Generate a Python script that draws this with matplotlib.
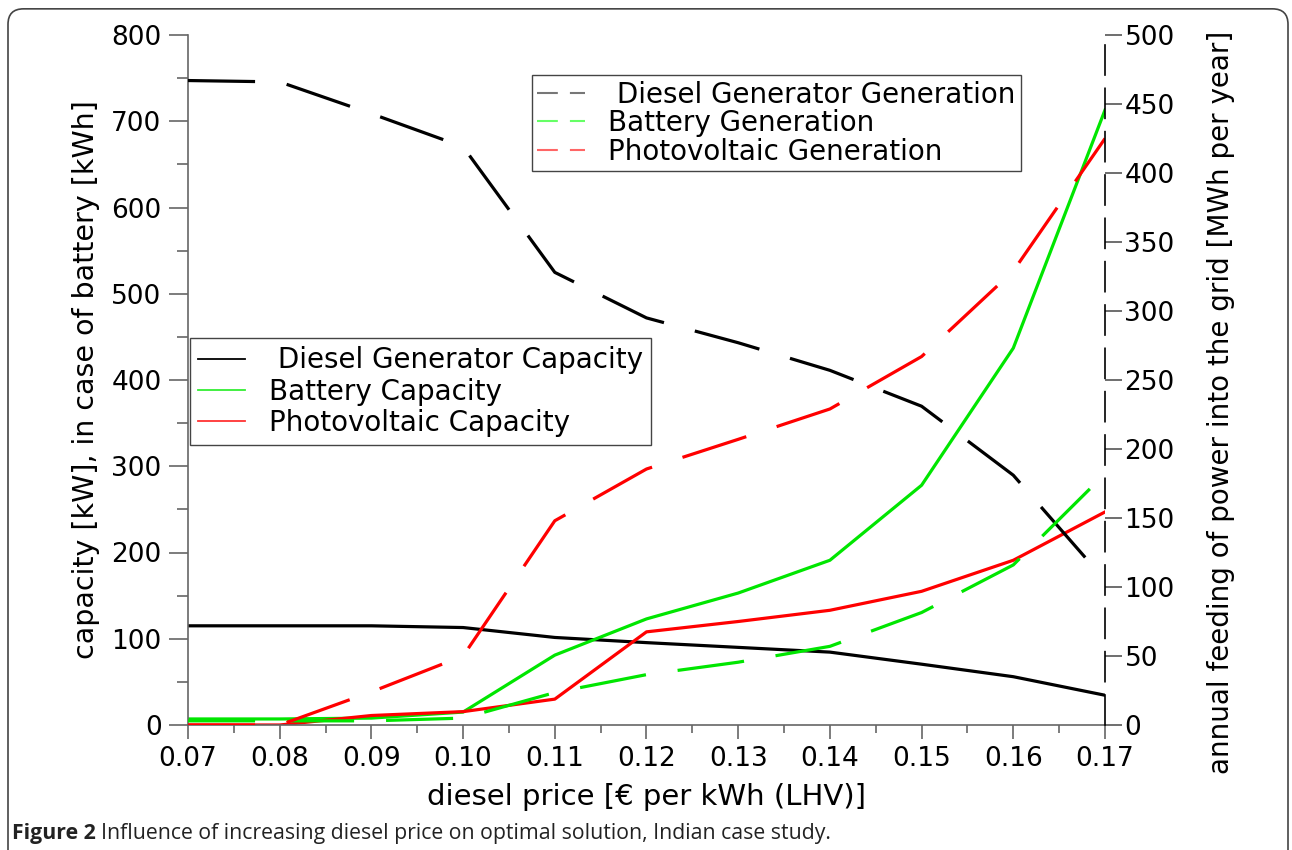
import matplotlib
matplotlib.use("Agg")
import matplotlib.pyplot as plt
from matplotlib.lines import Line2D
from matplotlib.patches import FancyBboxPatch
from matplotlib.ticker import MultipleLocator

plt.rcParams['font.family'] = ['DejaVu Sans']

# diesel price [EUR per kWh]
price = [0.07, 0.08, 0.09, 0.10, 0.11, 0.12, 0.13, 0.14, 0.15, 0.16, 0.17]

# capacities (left axis) [kW] / [kWh]
diesel_cap = [115, 115, 115, 113, 101.5, 95.5, 90, 84.5, 70.5, 56, 34.5]
battery_cap = [7, 7, 8, 15, 81, 123, 153, 191, 278, 437, 713]
pv_cap = [0, 0, 11, 15.5, 30, 108, 120, 133, 155, 191, 247]

# generation (right axis) [MWh per year]
diesel_gen = [467, 466, 443, 419, 328, 295, 277, 257, 231, 181, 105]
battery_gen = [3, 3, 3, 5, 23.5, 36.5, 45.5, 57, 81.5, 116, 182]
pv_gen = [0, 0, 24, 50, 148, 185.5, 207, 229, 267, 329, 425]

GREEN = '#00e600'
RED = '#ff0000'
LW = 2.3
DASH = (21, 10)
FS = 20

fig = plt.figure(figsize=(12.92, 8.5), dpi=100)

# rounded frame around the whole figure
frame = FancyBboxPatch((8 / 1292, -0.05), 1280 / 1292, (850 - 8) / 850 + 0.05 - 0.001,
                       boxstyle="round,pad=0,rounding_size=0.012",
                       transform=fig.transFigure, fill=False,
                       edgecolor='#444444', lw=1.2, mutation_aspect=1292 / 850)
fig.patches.append(frame)

ax = fig.add_axes([188 / 1292, 125 / 850, 917 / 1292, 690 / 850])
ax2 = ax.twinx()

# capacities, solid
ax.plot(price, diesel_cap, color='black', lw=LW)
ax.plot(price, battery_cap, color=GREEN, lw=LW)
ax.plot(price, pv_cap, color=RED, lw=LW)

# generation, dashed
for vals, col in [(diesel_gen, 'black'), (battery_gen, GREEN), (pv_gen, RED)]:
    ln, = ax2.plot(price, vals, color=col, lw=LW, dash_capstyle='butt')
    ln.set_dashes(DASH)

ax.set_xlim(0.07, 0.17)
ax.set_ylim(0, 800)
ax2.set_ylim(0, 500)

ax.xaxis.set_major_locator(MultipleLocator(0.01))
ax.xaxis.set_minor_locator(MultipleLocator(0.005))
ax.yaxis.set_major_locator(MultipleLocator(100))
ax.yaxis.set_minor_locator(MultipleLocator(50))
ax2.yaxis.set_major_locator(MultipleLocator(50))
ax.xaxis.set_major_formatter(plt.FuncFormatter(lambda v, p: f"{v:.2f}"))

ax.tick_params(axis='x', which='major', length=10, width=1.2, color='#666666',
               labelsize=19, pad=5, direction='out')
ax.tick_params(axis='x', which='minor', length=6, width=1.2, color='#666666', direction='out')
ax.tick_params(axis='y', which='major', length=14, width=1.2, color='#666666',
               labelsize=19, pad=5, direction='out')
ax.tick_params(axis='y', which='minor', length=8, width=1.2, color='#666666', direction='out')
ax2.tick_params(axis='y', length=12, width=1.2, color='#555555', labelsize=19, pad=2,
                direction='out')

for s in ['top', 'right']:
    ax.spines[s].set_visible(False)
for s in ['left', 'bottom']:
    ax.spines[s].set_color('#666666')
    ax.spines[s].set_linewidth(1.2)
for s in ['top', 'left', 'bottom']:
    ax2.spines[s].set_visible(False)
ax2.spines['right'].set_linestyle((0, (18, 8)))
ax2.spines['right'].set_linewidth(1.2)
ax2.spines['right'].set_color('black')

ax.set_xlabel('diesel price [€ per kWh (LHV)]', fontsize=21, labelpad=8)
ax.set_ylabel('capacity [kW], in case of battery [kWh]', fontsize=20.5, labelpad=8)
ax2.set_ylabel('annual feeding of power into the grid [MWh per year]', fontsize=20)
ax2.yaxis.set_label_coords(1.111, 0.468)

# legends
gen_handles = [Line2D([], [], color=c, lw=1.5, dashes=(10, 5.8))
               for c in ['#777777', '#66ff66', '#ff6666']]
gen_labels = [' Diesel Generator Generation', 'Battery Generation', 'Photovoltaic Generation']
leg1 = ax2.legend(gen_handles, gen_labels, loc='upper left',
                  bbox_to_anchor=(0.375, 0.942), fontsize=FS, frameon=True,
                  fancybox=False, framealpha=1, edgecolor='#444444',
                  handlelength=1.7, handletextpad=0.85, labelspacing=0.02,
                  borderpad=0.2, borderaxespad=0)
leg1.get_frame().set_linewidth(1.0)
ax2.add_artist(leg1)

cap_handles = [Line2D([], [], color=c, lw=1.3) for c in ['black', '#33ee33', '#ff3333']]
cap_labels = [' Diesel Generator Capacity', 'Battery Capacity', 'Photovoltaic Capacity']
leg2 = ax2.legend(cap_handles, cap_labels, loc='upper left',
                  bbox_to_anchor=(0.002, 0.561), fontsize=FS, frameon=True,
                  fancybox=False, framealpha=1, edgecolor='#444444',
                  handlelength=1.7, handletextpad=0.85, labelspacing=0.12,
                  borderpad=0.3, borderaxespad=0)
leg2.get_frame().set_linewidth(1.0)

# caption
cap_font = ['Open Sans', 'DejaVu Sans']
t1 = fig.text(12 / 1292, 16 / 850, 'Figure 2', fontsize=15.3, fontweight='bold',
              family=cap_font, color='#222222', va='center')
fig.canvas.draw()
bb = t1.get_window_extent()
fig.text((bb.x1 + 5) / 1292, 16 / 850,
         'Influence of increasing diesel price on optimal solution, Indian case study.',
         fontsize=15.3, family=cap_font, color='#222222', va='center')

fig.savefig('out.png', dpi=100)
